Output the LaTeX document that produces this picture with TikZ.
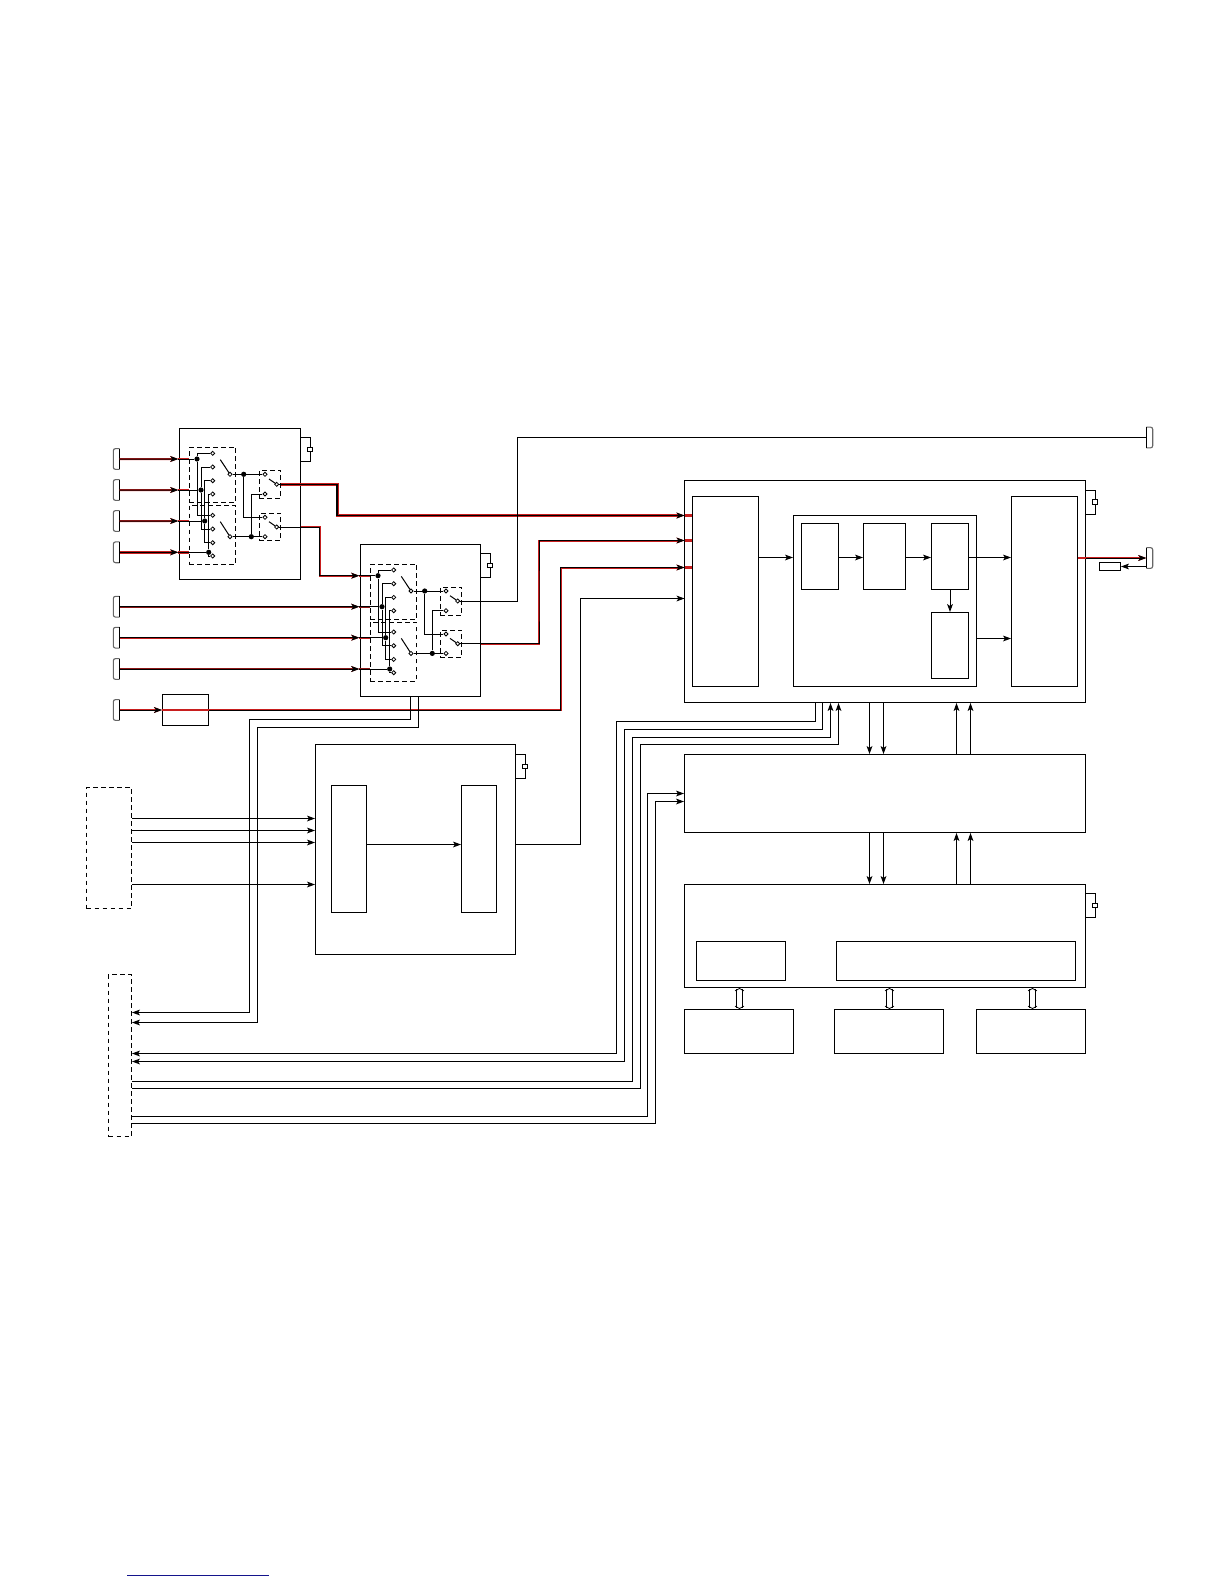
\documentclass[tikz,border=0pt]{standalone}
\usepackage{xcolor}
\usepackage{tikz}
\usetikzlibrary{arrows.meta,positioning,shapes.geometric,fit,calc}
\definecolor{sigred}{HTML}{C81E1E}
\definecolor{linkblue}{HTML}{14148C}
\tikzset{
  wire/.style={line width=0.5pt, line join=miter},
  blk/.style={draw, line width=0.5pt, inner sep=0pt, fit={#1}},
  blkd/.style={blk={#1}, dashed, dash pattern=on 2.4pt off 1.6pt},
  arr/.style={-{Stealth[length=4pt,width=2.9pt,inset=1pt]}},
  redwire/.style={wire, preaction={draw=sigred, line width=1pt}},
  maroon/.style={wire, preaction={draw=sigred!70!black, line width=0.9pt}},
  redfat/.style={line width=0.75pt, preaction={draw=sigred, line width=1.5pt}},
  redhot/.style={draw=sigred, line width=1.1pt},
  jdot/.style={circle, fill=black, inner sep=0pt, minimum size=2.6pt},
  cont/.style={diamond, draw, fill=white, line width=0.4pt, inner sep=0pt, minimum size=2.2pt},
  xtalcase/.style={draw, fill=white, line width=0.6pt, inner sep=0pt, minimum width=2.6pt, minimum height=2.2pt},
  pinbody/.style={inner sep=0pt, minimum width=2.8pt, minimum height=10pt},
  pinl/.style={pinbody, append after command={\pgfextra{
    \draw[black!60, line width=0.55pt, rounded corners=1.1pt] (\tikzlastnode.north east) -- (\tikzlastnode.north west) -- (\tikzlastnode.south west) -- (\tikzlastnode.south east);
    \draw[line width=0.55pt] (\tikzlastnode.north east) -- (\tikzlastnode.south east);}}},
  pinr/.style={pinbody, append after command={\pgfextra{
    \draw[black!60, line width=0.55pt, rounded corners=1.1pt] (\tikzlastnode.north west) -- (\tikzlastnode.north east) -- (\tikzlastnode.south east) -- (\tikzlastnode.south west);
    \draw[line width=0.55pt] (\tikzlastnode.north west) -- (\tikzlastnode.south west);}}},
  bibus/.style={double, line width=0.45pt, double distance=2.5pt, {Straight Barb[length=1.2pt,width=4.4pt,line width=0.4pt]}-{Straight Barb[length=1.2pt,width=4.4pt,line width=0.4pt]}},
  pics/xtal/.style={code={
    \coordinate (-a) at (0,-12);
    \coordinate (-b) at (0,12);
    \node[xtalcase] (-case) at (9.5,0) {};
    \draw[wire] (-a) -| (-case.north);
    \draw[wire] (-b) -| (-case.south);
  }},
  pics/muxblock/.style={code={
    \node[blkd={(10,19)(56.4,74.4)}] (-up) {};
    \node[blkd={(10,77)(56.4,136)}] (-low) {};
    \node[blkd={(80,42)(101.4,70.4)}] (-sela) {};
    \node[blkd={(80,85)(101.4,112.4)}] (-selb) {};
    % inputs: dots on four risers
    \foreach \n/\xx/\yy in {1/17.7/30.7,2/21.7/61.7,3/25.4/92.7,4/29.4/124}{
      \coordinate (-t\n) at (-1,\yy);
      \coordinate (-i\n) at (10,\yy);
      \node[jdot] (-d\n) at (\xx,\yy) {};
      \draw[wire] (-i\n) -- (-d\n);
    }
    \foreach \n/\yy in {1/25,2/38.7,3/52.4,4/65.7,5/87,6/100.7,7/114.4,8/127.7}
      \node[cont] (-c\n) at (33.4,\yy) {};
    \draw[wire] (-d1) |- (-c1);
    \draw[wire] (-d1) |- (-c5);
    \draw[wire] (-d2) |- (-c2);
    \draw[wire] (-d2) |- (-c6);
    \draw[wire] (-d3) |- (-c3);
    \draw[wire] (-d3) |- (-c7);
    \draw[wire] (-d4) |- (-c4);
    \draw[wire] (-d4) |- (-c8);
    % first stage switches
    \node[cont] (-pa) at (50.7,46) {};
    \node[cont] (-pb) at (50.7,108.4) {};
    \coordinate (-aa) at (41,31.4);
    \coordinate (-ab) at (41,93.4);
    \draw[wire] (-aa) -- (-pa);
    \draw[wire] (-ab) -- (-pb);
    \node[jdot] (-ja) at (64.4,46) {};
    \node[jdot] (-jb) at (72,108.4) {};
    % second stage switches
    \node[cont] (-q1) at (85.7,46) {};
    \node[cont] (-q2) at (85.7,65.7) {};
    \node[cont] (-q3) at (85.7,89) {};
    \node[cont] (-q4) at (85.7,108.4) {};
    \node[cont] (-oa) at (97.4,56) {};
    \node[cont] (-ob) at (97.4,98.7) {};
    \coordinate (-ba) at (89.7,50.7);
    \coordinate (-bb) at (89.7,93.4);
    \draw[wire] (-ba) -- (-oa);
    \draw[wire] (-bb) -- (-ob);
    \draw[wire] (-pa) -- (-q1);
    \draw[wire] (-pb) -- (-q4);
    \draw[wire] (-ja) |- (-q3);
    \draw[wire] (-jb) |- (-q2);
  }}
}

\begin{document}
\begin{tikzpicture}[x=0.5pt,y=-0.5pt]
  \useasboundingbox (0,0) rectangle (1224,1584);

  % input multiplexers
  \node[blk={(179.5,428.5)(300.5,579.5)}] (muxabox) {};
  \node[blk={(360.5,544.5)(480.5,696.5)}] (muxbbox) {};
  \pic (muxa) at (179.3,428.3) {muxblock};
  \pic (muxb) at (360.3,545) {muxblock};
  \pic (xtmuxa) at (300.5,449.3) {xtal};
  \pic (xtmuxb) at (480.5,565.5) {xtal};

  % pins
  \node[pinl] (pa) at (116.5,459) {};
  \node[pinl] (pb) at (116.5,490) {};
  \node[pinl] (pc) at (116.5,521) {};
  \node[pinl] (pd) at (116.5,552.3) {};
  \node[pinl] (pe) at (116.5,606.7) {};
  \node[pinl] (pf) at (116.5,637.7) {};
  \node[pinl] (pg) at (116.5,669) {};
  \node[pinl] (ph) at (116.5,710) {};
  \node[pinr] (ptop) at (1149.5,437.5) {};
  \node[pinr] (pout) at (1149.5,558) {};
  \node[blk={(162.5,694.5)(208.5,725.5)}] (filt) {};
  \node[blk={(1099.5,562.5)(1120.5,570.5)}] (load) {};

  % main receiver
  \node[blk={(684.5,480.5)(1085.5,702.5)}] (main) {};
  \node[blk={(692.5,496.5)(758.5,686.5)}] (mainl) {};
  \node[blk={(1011.5,496.5)(1077.5,686.5)}] (mainr) {};
  \node[blk={(793.5,515.5)(976.5,686.5)}] (mainc) {};
  \node[blk={(801.5,523.5)(838.5,589.5)}] (blka) {};
  \node[blk={(863.5,523.5)(905.5,589.5)}] (blkb) {};
  \node[blk={(931.5,523.5)(968.5,589.5)}] (blkc) {};
  \node[blk={(931.5,612.5)(968.5,678.5)}] (blkd) {};
  \pic (xtmain) at (1085.5,502) {xtal};

  % clock block
  \node[blk={(315.5,744.5)(515.5,954.5)}] (clk) {};
  \node[blk={(331.5,785.5)(366.5,912.5)}] (clkl) {};
  \node[blk={(461.5,785.5)(496.5,912.5)}] (clkr) {};
  \pic (xtclk) at (515.5,766.5) {xtal};

  % memory stack
  \node[blk={(684.5,754.5)(1085.5,832.5)}] (mem) {};
  \node[blk={(684.5,884.5)(1085.5,987.5)}] (dsp) {};
  \node[blk={(696.5,941.5)(785.5,980.5)}] (dspa) {};
  \node[blk={(836.5,941.5)(1075.5,980.5)}] (dspb) {};
  \pic (xtdsp) at (1085.5,905.5) {xtal};
  \node[blk={(684.5,1009.5)(793.5,1053.5)}] (ioa) {};
  \node[blk={(834.5,1009.5)(943.5,1053.5)}] (iob) {};
  \node[blk={(976.5,1009.5)(1085.5,1053.5)}] (ioc) {};

  % external connectors
  \node[blkd={(86.5,787.5)(131.5,908.5)}] (extin) {};
  \node[blkd={(108.5,974.5)(131.5,1136.5)}] (extio) {};

  % inputs of first mux
  \draw[redwire,arr] (pa.east) -- (muxa-t1);
  \draw[redwire] (muxa-t1) -- (muxa-i1);
  \draw[redwire,arr] (pb.east) -- (muxa-t2);
  \draw[redwire] (muxa-t2) -- (muxa-i2);
  \draw[redwire,arr] (pc.east) -- (muxa-t3);
  \draw[redwire] (muxa-t3) -- (muxa-i3);
  \draw[redfat,arr] (pd.east) -- (muxa-t4);
  \draw[redfat] (muxa-t4) -- (muxa-i4);

  % inputs of second mux
  \coordinate (ja) at (319.5,550);
  \draw[wire] (muxa-ob) -- (muxabox.east |- muxa-ob);
  \draw[redwire,arr] (muxabox.east |- muxa-ob) -| (ja) |- (muxb-t1);
  \draw[redwire] (muxb-t1) -- (muxb-i1);
  \draw[maroon,arr] (pe.east) -- (muxb-t2);
  \draw[maroon] (muxb-t2) -- (muxb-i2);
  \draw[redwire,arr] (pf.east) -- (muxb-t3);
  \draw[redwire] (muxb-t3) -- (muxb-i3);
  \draw[maroon,arr] (pg.east) -- (muxb-t4);
  \draw[maroon] (muxb-t4) -- (muxb-i4);

  % into the main receiver
  \coordinate (ina) at (684.5,515.5);
  \coordinate (inb) at (684.5,540.5);
  \coordinate (inc) at (684.5,567.5);
  \coordinate (ind) at (684.5,598.5);
  \coordinate (jb) at (337,500);
  \coordinate (jc) at (539,600);
  \coordinate (jd) at (560.5,640);
  \coordinate (je) at (580.5,844.5);
  \draw[wire] (muxa-oa) -- (muxa-sela.east |- muxa-oa);
  \draw[redfat,arr] (muxa-sela.east |- muxa-oa) -| (jb) |- (ina);
  \draw[redhot] (ina) -- (mainl.west |- ina);
  \draw[wire] (muxb-ob) -- (muxbbox.east |- muxb-ob);
  \draw[redwire,arr] (muxbbox.east |- muxb-ob) -| (jc) |- (inb);
  \draw[redhot] (inb) -- (mainl.west |- inb);
  \draw[redwire,arr] (ph.east) -- (filt.west);
  \draw[redhot] (filt.west) -- (filt.east);
  \draw[redwire,arr] (filt.east) -| (jd) |- (inc);
  \draw[redhot] (inc) -- (mainl.west |- inc);
  \draw[wire,arr] (clk.east |- je) -- (je) |- (ind);

  % long line to the top pin
  \coordinate (jf) at (517.5,500);
  \draw[wire] (muxb-oa) -| (jf) |- (ptop.west);

  % inside main
  \draw[wire,arr] (mainl.east |- 0,557.5) -- (mainc.west |- 0,557.5);
  \draw[wire,arr] (blka.east |- 0,557.5) -- (blkb.west |- 0,557.5);
  \draw[wire,arr] (blkb.east |- 0,557.5) -- (blkc.west |- 0,557.5);
  \draw[wire,arr] (blkc) -- (blkd);
  \draw[wire,arr] (blkc.east |- 0,557.5) -- (mainr.west |- 0,557.5);
  \draw[wire,arr] (mainc.east |- 0,638.5) -- (mainr.west |- 0,638.5);

  % output side
  \draw[redhot] (mainr.east |- pout) -- (main.east |- pout);
  \draw[redwire,arr] (main.east |- pout) -- (pout.west);
  \draw[wire,arr] (pout.west |- load) -- (load.east);

  % buses between blocks
  \foreach \xx in {869.5,883.5}{
    \draw[wire,arr] (main.south -| \xx,0) -- (mem.north -| \xx,0);
    \draw[wire,arr] (mem.south -| \xx,0) -- (dsp.north -| \xx,0);
  }
  \foreach \xx in {956.5,970.5}{
    \draw[wire,arr] (mem.north -| \xx,0) -- (main.south -| \xx,0);
    \draw[wire,arr] (dsp.north -| \xx,0) -- (mem.south -| \xx,0);
  }
  \draw[bibus] (dsp.south -| 739.5,0) -- (ioa.north -| 739.5,0);
  \draw[bibus] (dsp.south -| 889.5,0) -- (iob.north -| 889.5,0);
  \draw[bibus] (dsp.south -| 1032.5,0) -- (ioc.north -| 1032.5,0);

  % clock block wiring
  \draw[wire,arr] (clkl.east |- je) -- (clkr.west |- je);
  \foreach \yy in {818.5,830.5,842.5,884.5}
    \draw[wire,arr] (extin.east |- 0,\yy) -- (clk.west |- 0,\yy);

  % control lines to the left connector
  \coordinate (ka) at (249.5,719.5);
  \coordinate (kb) at (257.5,727.5);
  \draw[wire,arr] (muxbbox.south -| 410.5,0) |- (ka) |- (extio.east |- 0,1012.5);
  \draw[wire,arr] (muxbbox.south -| 418.5,0) |- (kb) |- (extio.east |- 0,1022.5);
  \coordinate (ra) at (616.5,721.5);
  \coordinate (rb) at (624.5,729.5);
  \coordinate (rc) at (632.5,737.5);
  \coordinate (rd) at (640.5,744.5);
  \coordinate (re) at (647.5,793.5);
  \coordinate (rf) at (655.5,801.5);
  \draw[wire,arr] (main.south -| 815.5,0) |- (ra) |- (extio.east |- 0,1053.5);
  \draw[wire,arr] (main.south -| 822.5,0) |- (rb) |- (extio.east |- 0,1061.5);
  \draw[wire,arr] (extio.east |- 0,1081.5) -| (rc) -| (main.south -| 830.5,0);
  \draw[wire,arr] (extio.east |- 0,1088.5) -| (rd) -| (main.south -| 838.5,0);
  \draw[wire,arr] (extio.east |- 0,1116.5) -| (re) -- (mem.west |- re);
  \draw[wire,arr] (extio.east |- 0,1123.5) -| (rf) -- (mem.west |- rf);

  % rule at the foot of the page
  \coordinate (fa) at (127,1575.5);
  \coordinate (fb) at (269,1575.5);
  \draw[draw=linkblue, line width=0.55pt] (fa) -- (fb);
\end{tikzpicture}
\end{document}
